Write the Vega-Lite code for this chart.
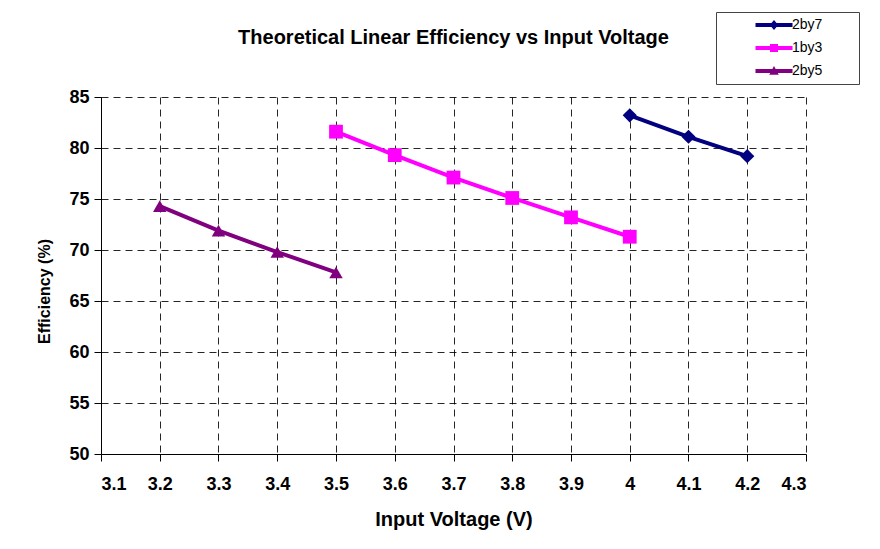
{
  "$schema": "https://vega.github.io/schema/vega-lite/v6.json",
  "width": 705,
  "height": 357,
  "autosize": {"type": "none"},
  "padding": {"left": 101, "top": 97, "right": 74, "bottom": 95},
  "background": "white",
  "config": {
    "view": {"stroke": null},
    "font": "Liberation Sans",
    "axis": {
      "domainColor": "#000000",
      "domainWidth": 1,
      "tickColor": "#000000",
      "tickSize": 7,
      "gridColor": "#000000",
      "gridDash": [7, 5],
      "gridWidth": 1,
      "gridOpacity": 0.85,
      "labelFont": "Liberation Sans",
      "labelFontSize": 18,
      "labelFontWeight": "bold",
      "labelColor": "#000000",
      "titleFont": "Liberation Sans",
      "titleFontWeight": "bold",
      "titleColor": "#000000"
    }
  },
  "title": {
    "text": "Theoretical Linear Efficiency vs Input Voltage",
    "font": "Liberation Sans",
    "fontSize": 20,
    "fontWeight": "bold",
    "color": "#000000",
    "anchor": "middle",
    "baseline": "alphabetic",
    "offset": -52
  },
  "data": {
    "values": [
      {"voltage": 4.0, "efficiency": 83.2, "ratio": "2by7"},
      {"voltage": 4.1, "efficiency": 81.1, "ratio": "2by7"},
      {"voltage": 4.2, "efficiency": 79.2, "ratio": "2by7"},
      {"voltage": 3.5, "efficiency": 81.6, "ratio": "1by3"},
      {"voltage": 3.6, "efficiency": 79.3, "ratio": "1by3"},
      {"voltage": 3.7, "efficiency": 77.1, "ratio": "1by3"},
      {"voltage": 3.8, "efficiency": 75.1, "ratio": "1by3"},
      {"voltage": 3.9, "efficiency": 73.2, "ratio": "1by3"},
      {"voltage": 4.0, "efficiency": 71.3, "ratio": "1by3"},
      {"voltage": 3.2, "efficiency": 74.3, "ratio": "2by5"},
      {"voltage": 3.3, "efficiency": 71.9, "ratio": "2by5"},
      {"voltage": 3.4, "efficiency": 69.8, "ratio": "2by5"},
      {"voltage": 3.5, "efficiency": 67.8, "ratio": "2by5"}
    ]
  },
  "encoding": {
    "x": {
      "field": "voltage",
      "type": "quantitative",
      "scale": {"domain": [3.1, 4.3], "nice": false, "zero": false},
      "axis": {
        "title": "Input Voltage (V)",
        "titleFontSize": 20,
        "titlePadding": 16,
        "values": [3.1, 3.2, 3.3, 3.4, 3.5, 3.6, 3.7, 3.8, 3.9, 4.0, 4.1, 4.2, 4.3],
        "labelExpr": "datum.value == 4 ? '4' : format(datum.value, '.1f')",
        "labelPadding": 14
      }
    },
    "y": {
      "field": "efficiency",
      "type": "quantitative",
      "scale": {"domain": [50, 85], "nice": false, "zero": false},
      "axis": {
        "title": "Efficiency (%)",
        "titleFontSize": 16,
        "titlePadding": 16,
        "titleY": 194,
        "values": [50, 55, 60, 65, 70, 75, 80, 85],
        "labelPadding": 5
      }
    },
    "color": {
      "field": "ratio",
      "type": "nominal",
      "scale": {"domain": ["2by7", "1by3", "2by5"], "range": ["#000080", "#FF00FF", "#800080"]},
      "legend": {
        "title": null,
        "orient": "none",
        "legendX": 615,
        "legendY": -85,
        "padding": 6,
        "strokeColor": "#444444",
        "fillColor": "#ffffff",
        "labelFont": "Liberation Sans",
        "labelFontSize": 14,
        "labelColor": "#000000",
        "rowPadding": 9,
        "symbolSize": 100,
        "symbolOffset": 45,
        "labelOffset": 11,
        "encode": {
          "symbols": {
            "update": {
              "shape": {"signal": "(datum.value === '2by7' ? 'M-3.7,-0.4H3.7V0.4H-3.7Z M0,-1L0.85,0L0,1L-0.85,0Z' : datum.value === '1by3' ? 'M-3.7,-0.4H3.7V0.4H-3.7Z M-0.8,-0.8H0.8V0.8H-0.8Z' : 'M-3.7,-0.4H3.7V0.4H-3.7Z M0,-1L0.95,0.75H-0.95Z') + ' M15.8,-0.005L15.8,0.005L15.795,0Z'"},
              "size": {"value": 100},
              "strokeWidth": {"value": 0},
              "opacity": {"value": 1},
              "fillOpacity": {"value": 1},
              "fill": {"signal": "scale('color', datum.value)"}
            }
          }
        }
      }
    }
  },
  "layer": [
    {"mark": {"type": "line", "strokeWidth": 4}},
    {
      "transform": [{"filter": "datum.ratio === '2by7'"}],
      "mark": {"type": "point", "shape": "diamond", "filled": true, "opacity": 1, "size": 200}
    },
    {
      "transform": [{"filter": "datum.ratio === '1by3'"}],
      "mark": {"type": "point", "shape": "square", "filled": true, "opacity": 1, "size": 190}
    },
    {
      "transform": [{"filter": "datum.ratio === '2by5'"}],
      "mark": {"type": "point", "shape": "triangle-up", "filled": true, "opacity": 1, "size": 180}
    }
  ]
}
